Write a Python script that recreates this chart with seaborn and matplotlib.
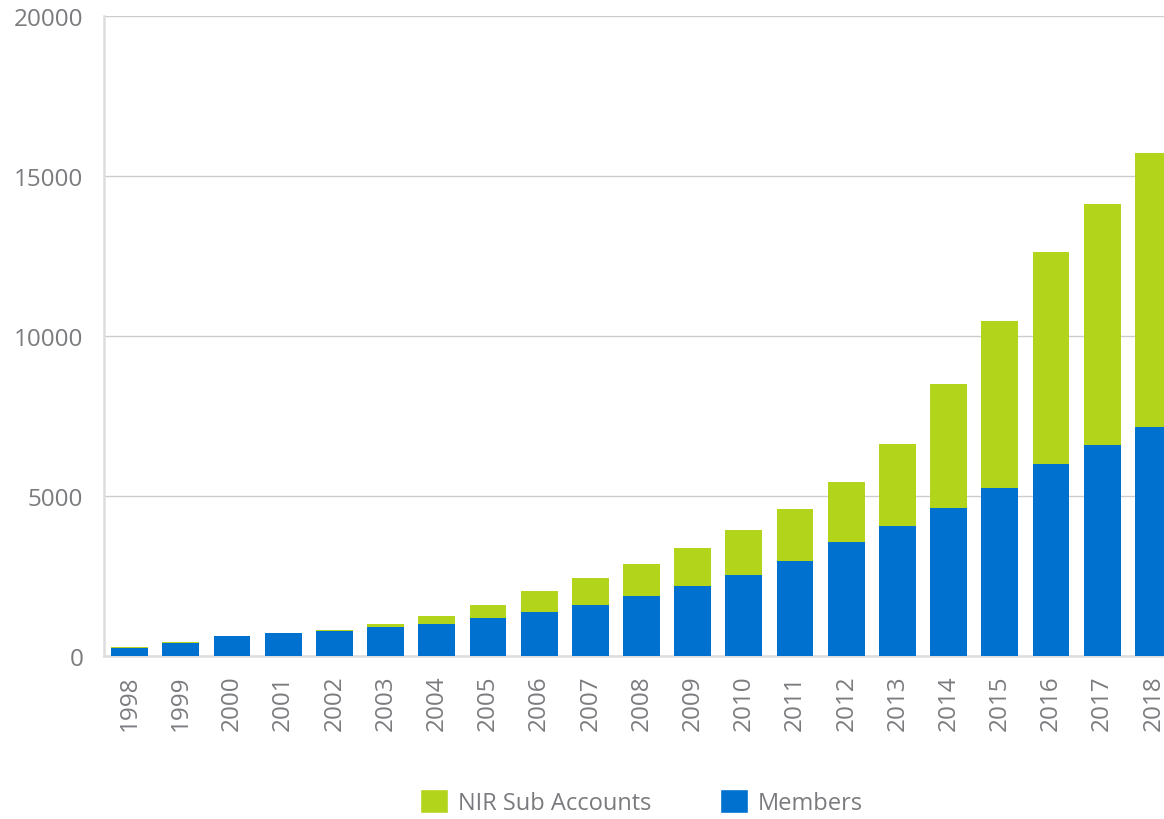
import matplotlib
matplotlib.use("Agg")
import matplotlib.pyplot as plt
import seaborn as sns
import pandas as pd
from matplotlib.patches import Patch
from matplotlib.ticker import FixedLocator

years = [str(y) for y in range(1998, 2019)]
members = [240, 400, 615, 710, 770, 900, 990, 1180, 1370, 1585, 1865, 2180,
           2520, 2960, 3555, 4050, 4610, 5265, 6015, 6580, 7170]
nir_sub = [30, 30, 0, 0, 35, 90, 250, 405, 650, 845, 1000, 1185,
           1410, 1625, 1875, 2560, 3905, 5190, 6625, 7560, 8535]
y_ticks = [0, 5000, 10000, 15000, 20000]

GREEN = "#B2D41B"
BLUE = "#0071CE"
TEXT = "#7a7b7e"

sns.set_theme(style="white")
plt.rcParams['font.family'] = ['Open Sans', 'DejaVu Sans']
plt.rcParams['font.weight'] = 'normal'

df = pd.DataFrame({"year": years, "members": members, "nir": nir_sub})
df["total"] = df["members"] + df["nir"]

fig = plt.figure(figsize=(11.64, 8.20), dpi=100)
ax = fig.add_axes([104/1164, 1-657/820, 1075/1164, 640/820])

sns.barplot(data=df, x="year", y="total", color=GREEN, width=0.72,
            saturation=1, linewidth=0, ax=ax, zorder=3)
sns.barplot(data=df, x="year", y="members", color=BLUE, width=0.72,
            saturation=1, linewidth=0, ax=ax, zorder=4)

ax.set_ylim(0, 20000)
ax.set_xlim(-0.5, len(years) - 0.5)
ax.set_yticks(y_ticks)
ax.set_yticklabels([str(v) for v in y_ticks])
ax.yaxis.grid(True, color="#cccccc", linewidth=1.0, zorder=0)
ax.set_axisbelow(True)
ax.set_xlabel("")
ax.set_ylabel("")

for s in ["top", "right"]:
    ax.spines[s].set_visible(False)
ax.spines["left"].set_color("#dddddd")
ax.spines["left"].set_linewidth(1.8)
ax.spines["bottom"].set_color("#dddddd")
ax.spines["bottom"].set_linewidth(1.8)

ax.tick_params(axis="y", length=0, pad=15, labelsize=17.5, labelcolor=TEXT)
ax.tick_params(axis="x", length=0, pad=13, labelsize=17.5, labelcolor=TEXT,
               labelrotation=90)
ax.xaxis.set_minor_locator(FixedLocator([i + 0.5 for i in range(len(years) - 1)]))
ax.tick_params(axis="x", which="minor", direction="in", length=5, width=1.2,
               color="#cccccc")

handles = [Patch(facecolor=GREEN, label="NIR Sub Accounts"),
           Patch(facecolor=BLUE, label="Members")]
leg = fig.legend(handles=handles, loc="center", bbox_to_anchor=(0.551, 0.021),
                 ncol=2, frameon=False, fontsize=17, handlelength=1.2,
                 handleheight=1.2, handletextpad=0.4, columnspacing=2.9)
for t in leg.get_texts():
    t.set_color(TEXT)

fig.savefig("out.png", dpi=100)
